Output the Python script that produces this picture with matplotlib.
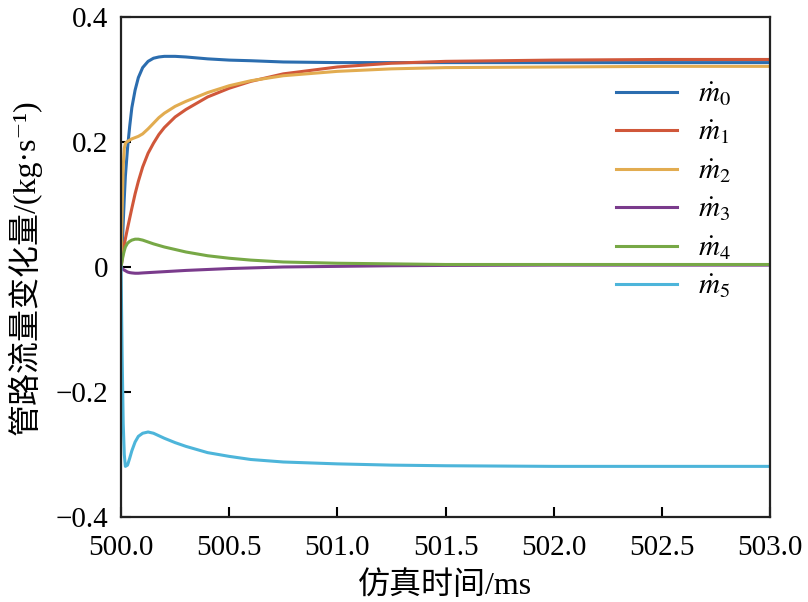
import numpy as np
import matplotlib
matplotlib.use('Agg')
import matplotlib.pyplot as plt

plt.rcParams['font.family'] = ['Liberation Serif', 'Noto Sans CJK SC', 'DejaVu Serif']
plt.rcParams['mathtext.fontset'] = 'stix'
plt.rcParams['axes.unicode_minus'] = True

# 仿真时间 (ms)
t = [500.0, 500.005, 500.01, 500.015, 500.02, 500.03, 500.04, 500.05, 500.065, 500.08,
     500.1, 500.125, 500.15, 500.175, 500.2, 500.25, 500.3, 500.4, 500.5, 500.6, 500.75,
     501.0, 501.25, 501.5, 502.0, 502.5, 503.0]

m0 = [0, 0.03, 0.07, 0.11, 0.145, 0.19, 0.225, 0.255, 0.283, 0.303,
      0.319, 0.329, 0.334, 0.336, 0.337, 0.337, 0.336, 0.333, 0.331, 0.330, 0.328,
      0.327, 0.327, 0.327, 0.327, 0.327, 0.327]
m1 = [0, 0.012, 0.024, 0.035, 0.045, 0.062, 0.078, 0.094, 0.117, 0.137,
      0.160, 0.182, 0.198, 0.212, 0.223, 0.240, 0.252, 0.272, 0.286, 0.297, 0.309,
      0.320, 0.326, 0.329, 0.331, 0.332, 0.332]
m2 = [0, 0.09, 0.16, 0.19, 0.198, 0.201, 0.203, 0.205, 0.207, 0.209,
      0.213, 0.221, 0.230, 0.239, 0.246, 0.257, 0.265, 0.279, 0.290, 0.298, 0.306,
      0.313, 0.317, 0.319, 0.320, 0.321, 0.321]
m3 = [0, -0.002, -0.004, -0.005, -0.006, -0.008, -0.009, -0.0095, -0.010, -0.010,
      -0.0095, -0.009, -0.0085, -0.008, -0.0075, -0.0065, -0.0055, -0.004, -0.0025, -0.0015, 0.0,
      0.001, 0.002, 0.0025, 0.003, 0.003, 0.003]
m4 = [0, 0.010, 0.019, 0.026, 0.032, 0.038, 0.041, 0.043, 0.0445, 0.0445,
      0.043, 0.040, 0.037, 0.0345, 0.032, 0.028, 0.024, 0.018, 0.014, 0.011, 0.008,
      0.006, 0.005, 0.004, 0.004, 0.004, 0.004]
m5 = [0, -0.14, -0.25, -0.30, -0.319, -0.317, -0.306, -0.294, -0.280, -0.271,
      -0.266, -0.264, -0.266, -0.270, -0.274, -0.281, -0.287, -0.297, -0.303, -0.308, -0.312,
      -0.315, -0.317, -0.318, -0.319, -0.319, -0.319]

series = [m0, m1, m2, m3, m4, m5]
labels = [r'$\dot{m}_{%d}$' % i for i in range(6)]
colors = ['#2B6DAF', '#D0573A', '#E2AC50', '#7A3B8C', '#77A846', '#4DB5DA']

xticks = [500.0, 500.5, 501.0, 501.5, 502.0, 502.5, 503.0]
yticks = [-0.4, -0.2, 0, 0.2, 0.4]
yticklabels = ['\u22120.4', '\u22120.2', '0', '0.2', '0.4']

fig = plt.figure(figsize=(8.08, 6.02), dpi=100)
ax = fig.add_axes([0.1498, 0.1412, 0.8032, 0.8306])

for y, lab, c in zip(series, labels, colors):
    ax.plot(t, y, color=c, lw=2.2, label=lab)

ax.set_xlim(500, 503)
ax.set_ylim(-0.4, 0.4)
ax.set_xticks(xticks)
ax.set_xticklabels(['%.1f' % v for v in xticks])
ax.set_yticks(yticks)
ax.set_yticklabels(yticklabels)
ax.tick_params(direction='in', length=7, width=1.5, labelsize=21)
ax.tick_params(axis='x', pad=13)
ax.tick_params(axis='y', pad=9)
for s in ax.spines.values():
    s.set_linewidth(1.6)
    s.set_color('#222222')

ax.set_xlabel('仿真时间/ms', fontsize=23, labelpad=7)
ax.set_ylabel('管路流量变化量/(kg·s⁻¹)', fontsize=23, labelpad=10)

leg = ax.legend(loc='upper left', bbox_to_anchor=(0.722, 0.925), frameon=False,
                fontsize=21, handlelength=2.1, handletextpad=0.7, labelspacing=0.38)

fig.savefig('out.png', dpi=100)
